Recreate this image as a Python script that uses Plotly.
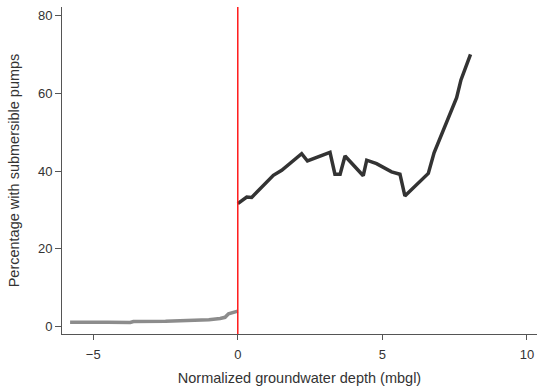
import plotly.graph_objects as go

# Below-threshold (gray) series
below_x = [-5.8, -5.0, -4.5, -3.72, -3.61, -2.5, -1.53, -1.0, -0.61, -0.44, -0.32, -0.15, 0.0]
below_y = [1.03, 1.1, 1.0, 0.96, 1.2, 1.3, 1.47, 1.7, 2.0, 2.3, 3.2, 3.5, 3.9]

# Above-threshold (black) series
above_x = [0.0, 0.31, 0.48, 1.23, 1.52, 2.21, 2.41, 3.19, 3.36, 3.54, 3.71, 4.34, 4.46,
           4.80, 5.32, 5.61, 5.78, 6.59, 6.79, 7.57, 7.72, 8.05]
above_y = [31.6, 33.3, 33.2, 38.9, 40.2, 44.5, 42.6, 44.8, 39.2, 39.2, 43.9, 38.8, 42.8,
           41.9, 39.8, 39.2, 33.6, 39.4, 44.7, 58.9, 63.5, 70.1]

x_ticks = [-5, 0, 5, 10]
y_ticks = [0, 20, 40, 60, 80]

fig = go.Figure()
fig.add_trace(go.Scatter(x=below_x, y=below_y, mode="lines",
                         line=dict(color="#8c8c8c", width=3.5), showlegend=False))
fig.add_trace(go.Scatter(x=above_x, y=above_y, mode="lines",
                         line=dict(color="#333333", width=3.5), showlegend=False))
fig.add_shape(type="line", xref="x", yref="paper", x0=0, x1=0, y0=0, y1=1,
              line=dict(color="#ff1a1a", width=1.5))

fig.update_layout(
    width=537, height=389,
    margin=dict(l=62, r=0, t=7, b=55, autoexpand=False),
    paper_bgcolor="white", plot_bgcolor="white",
    font=dict(family="Liberation Sans, Arial, sans-serif", size=13, color="#333333"),
    xaxis=dict(range=[-6.08, 10.35], tickvals=x_ticks, showgrid=False, zeroline=False,
               showline=True, linecolor="#555555", linewidth=1, automargin=False,
               ticks="outside", ticklen=5, tickcolor="#555555", ticklabelstandoff=3,
               title=dict(text="Normalized groundwater depth (mbgl)", font=dict(size=14.5), standoff=12)),
    yaxis=dict(range=[-2.0, 82.3], tickvals=y_ticks, showgrid=False, zeroline=False,
               showline=True, linecolor="#555555", linewidth=1, automargin=False,
               ticks="outside", ticklen=6, tickcolor="#555555",
               title=dict(text="Percentage with submersible pumps", font=dict(size=14.5), standoff=14)),
)

fig.write_html("out.html", config={"displayModeBar": False},
               post_script="document.body.style.margin='0px';document.body.style.overflow='hidden';")
